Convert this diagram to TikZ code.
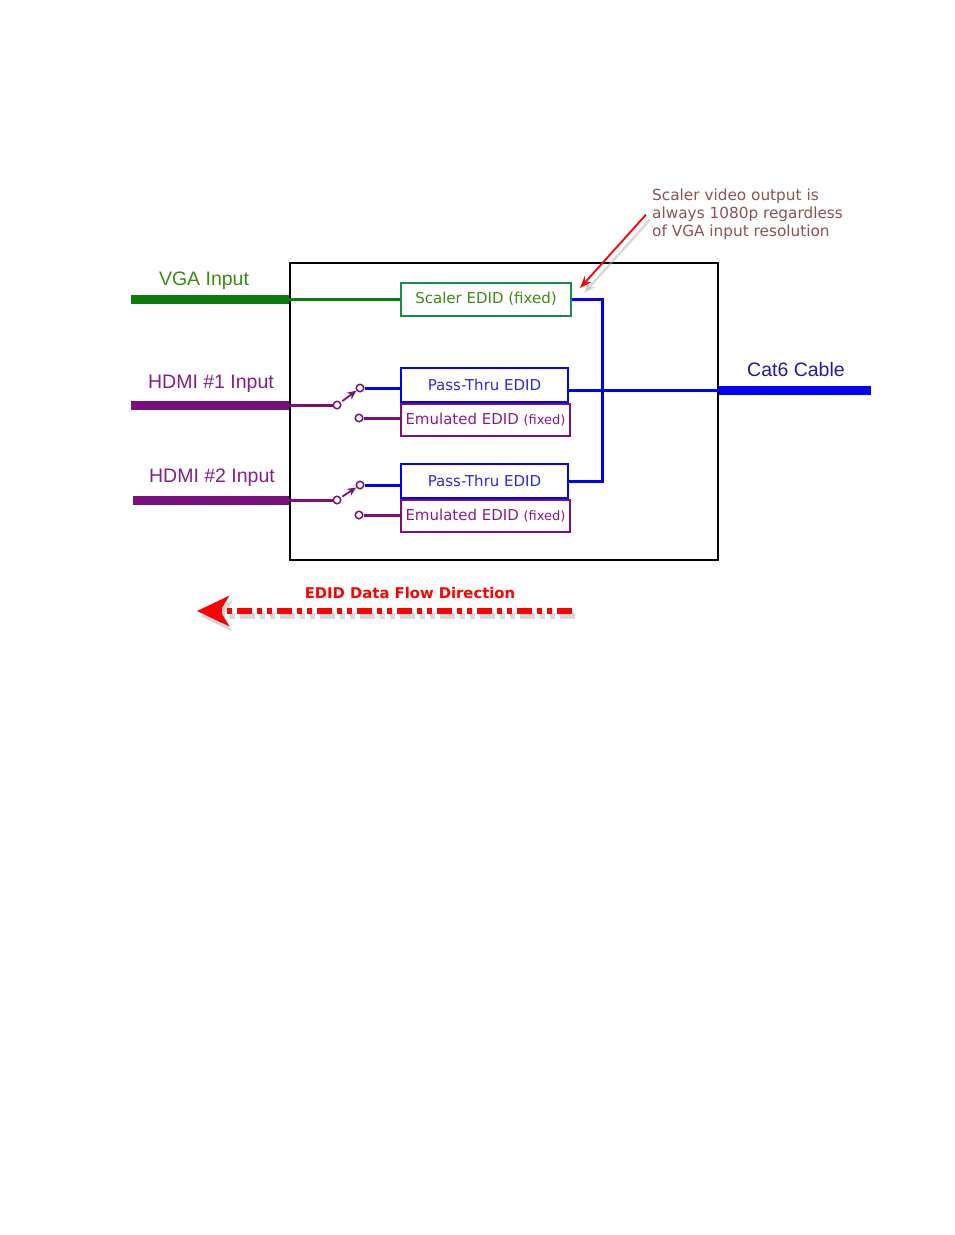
\documentclass[tikz,border=0pt]{standalone}
\usepackage{fontspec}
\setmainfont{DejaVu Sans}
\newfontfamily\arialfont{Liberation Sans}
\usetikzlibrary{arrows.meta,positioning}
\definecolor{vgagreen}{HTML}{0B7D0B}
\definecolor{vgatext}{HTML}{3F8A12}
\definecolor{scalerframe}{HTML}{1E8A4A}
\definecolor{hdmipurple}{HTML}{7A107A}
\definecolor{hdmitext}{HTML}{8A1C8A}
\definecolor{passblue}{HTML}{2A2AE6}
\definecolor{catnavy}{HTML}{1C1CA6}
\definecolor{notebrown}{HTML}{8E5252}

\tikzset{
  edidbox/.style={draw, rectangle, anchor=west, inner sep=0pt, line width=2pt,
    minimum height=33pt, font=\fontsize{15}{18}\selectfont},
  contact/.style={draw=hdmipurple, circle, fill=white, inner sep=0pt,
    minimum size=7.5pt, line width=1.5pt},
  portlabel/.style={font=\arialfont\fontsize{19.5}{22}\selectfont},
  fatline/.style={line width=9pt},
  thinline/.style={line width=3pt}
}

\begin{document}
\begin{tikzpicture}[x=1pt, y=-1pt, every node/.style={align=center}]
\useasboundingbox (0,0) rectangle (954,1235);

% Main unit
\node[draw, line width=2pt, minimum width=428pt, minimum height=297pt, inner sep=0pt] (unit) at (504,411.5) {};

% EDID blocks
\node[edidbox, draw=scalerframe, text=vgatext, minimum width=170pt] (scaler) at (400,299) {Scaler EDID (fixed)};
\node[edidbox, draw=blue, text=passblue, minimum width=167pt, minimum height=34pt] (pass1) at (400,385) {Pass-Thru EDID};
\node[edidbox, draw=hdmipurple, text=hdmitext, minimum width=169pt, minimum height=32pt] (emu1) at (400,420) {Emulated EDID {\fontsize{13}{15}\selectfont(fixed)}};
\node[edidbox, draw=blue, text=passblue, minimum width=167pt, minimum height=34pt] (pass2) at (400,481) {Pass-Thru EDID};
\node[edidbox, draw=hdmipurple, text=hdmitext, minimum width=169pt, minimum height=32pt] (emu2) at (400,516) {Emulated EDID {\fontsize{13}{15}\selectfont(fixed)}};

% Switch contacts
\node[contact] (pivot1) at (337,405) {};
\node[contact] (up1) at (360,388) {};
\node[contact] (low1) at (359,418) {};
\node[contact] (pivot2) at (337,500) {};
\node[contact] (up2) at (360,485) {};
\node[contact] (low2) at (359,515) {};

% Port labels
\node[portlabel, text=vgatext] (vgalabel) at (204,281) {VGA Input};
\node[portlabel, text=hdmitext] (hdmi1label) at (211,384) {HDMI \#1 Input};
\node[portlabel, text=hdmitext] (hdmi2label) at (212,478) {HDMI \#2 Input};
\node[portlabel, text=catnavy] (catlabel) at (796,370) {Cat6 Cable};

\coordinate (vgain) at (131,299);
\coordinate (hdmi1in) at (131,405);
\coordinate (hdmi2in) at (133,500);
\coordinate (catout) at (871,390);

% VGA path
\draw[fatline, vgagreen] (vgain) -- (vgain -| unit.west);
\draw[thinline, vgagreen] (vgain -| unit.west) -- (scaler.west);

% HDMI paths
\foreach \n in {1,2} {
  \draw[fatline, hdmipurple] (hdmi\n in) -- (hdmi\n in -| unit.west);
  \draw[thinline, hdmipurple] (hdmi\n in -| unit.west) -- (pivot\n);
  \draw[line width=1.8pt, hdmipurple, shorten <=2pt, -{Stealth[length=9pt,width=8pt]}] (pivot\n) -- (up\n);
  \draw[thinline, blue] (up\n) -- (up\n -| pass\n.west);
  \draw[thinline, hdmipurple] (low\n) -- (low\n -| emu\n.west);
}

% Output bus
\draw[line width=3pt, blue] (scaler.east) -- ++(30,0) |- (pass2.east);
\draw[thinline, blue] (catout -| pass1.east) -- (catout -| unit.east);
\draw[fatline, blue] (catout -| unit.east) -- (catout);

% Note
\node[anchor=north west, align=left, text=notebrown, font=\fontsize{15.3}{18}\selectfont, inner sep=0pt] (note) at (652,189) {Scaler video output is\\always 1080p regardless\\of VGA input resolution};
\coordinate (scalernote) at (580,288);
\draw[line width=2.4pt, black!30, opacity=0.5, -{Stealth[length=12pt,width=9pt]}] ([shift={(-2,5)}]note.west) -- ([shift={(4,5)}]scalernote);
\draw[line width=1.8pt, red, -{Stealth[length=12pt,width=9pt]}] ([xshift=-6pt]note.west) -- (scalernote);

% EDID flow direction
\node[font=\bfseries\fontsize{14.8}{17}\selectfont, text=red] (flowlabel) at (410,593) {EDID Data Flow Direction};
\coordinate (flowstart) at (572,611);
\coordinate (flowend) at (197,611);
\draw[line width=6.5pt, black!30, opacity=0.5, dash pattern=on 15pt off 5pt on 5pt off 5pt on 5pt off 5pt,
  -{Stealth[length=32pt,width=30pt,inset=9pt]}] ([shift={(3,5)}]flowstart) -- ([shift={(3,5)}]flowend);
\draw[line width=6.5pt, red, dash pattern=on 15pt off 5pt on 5pt off 5pt on 5pt off 5pt,
  -{Stealth[length=32pt,width=30pt,inset=9pt]}] (flowstart) -- (flowend);
\end{tikzpicture}
\end{document}
